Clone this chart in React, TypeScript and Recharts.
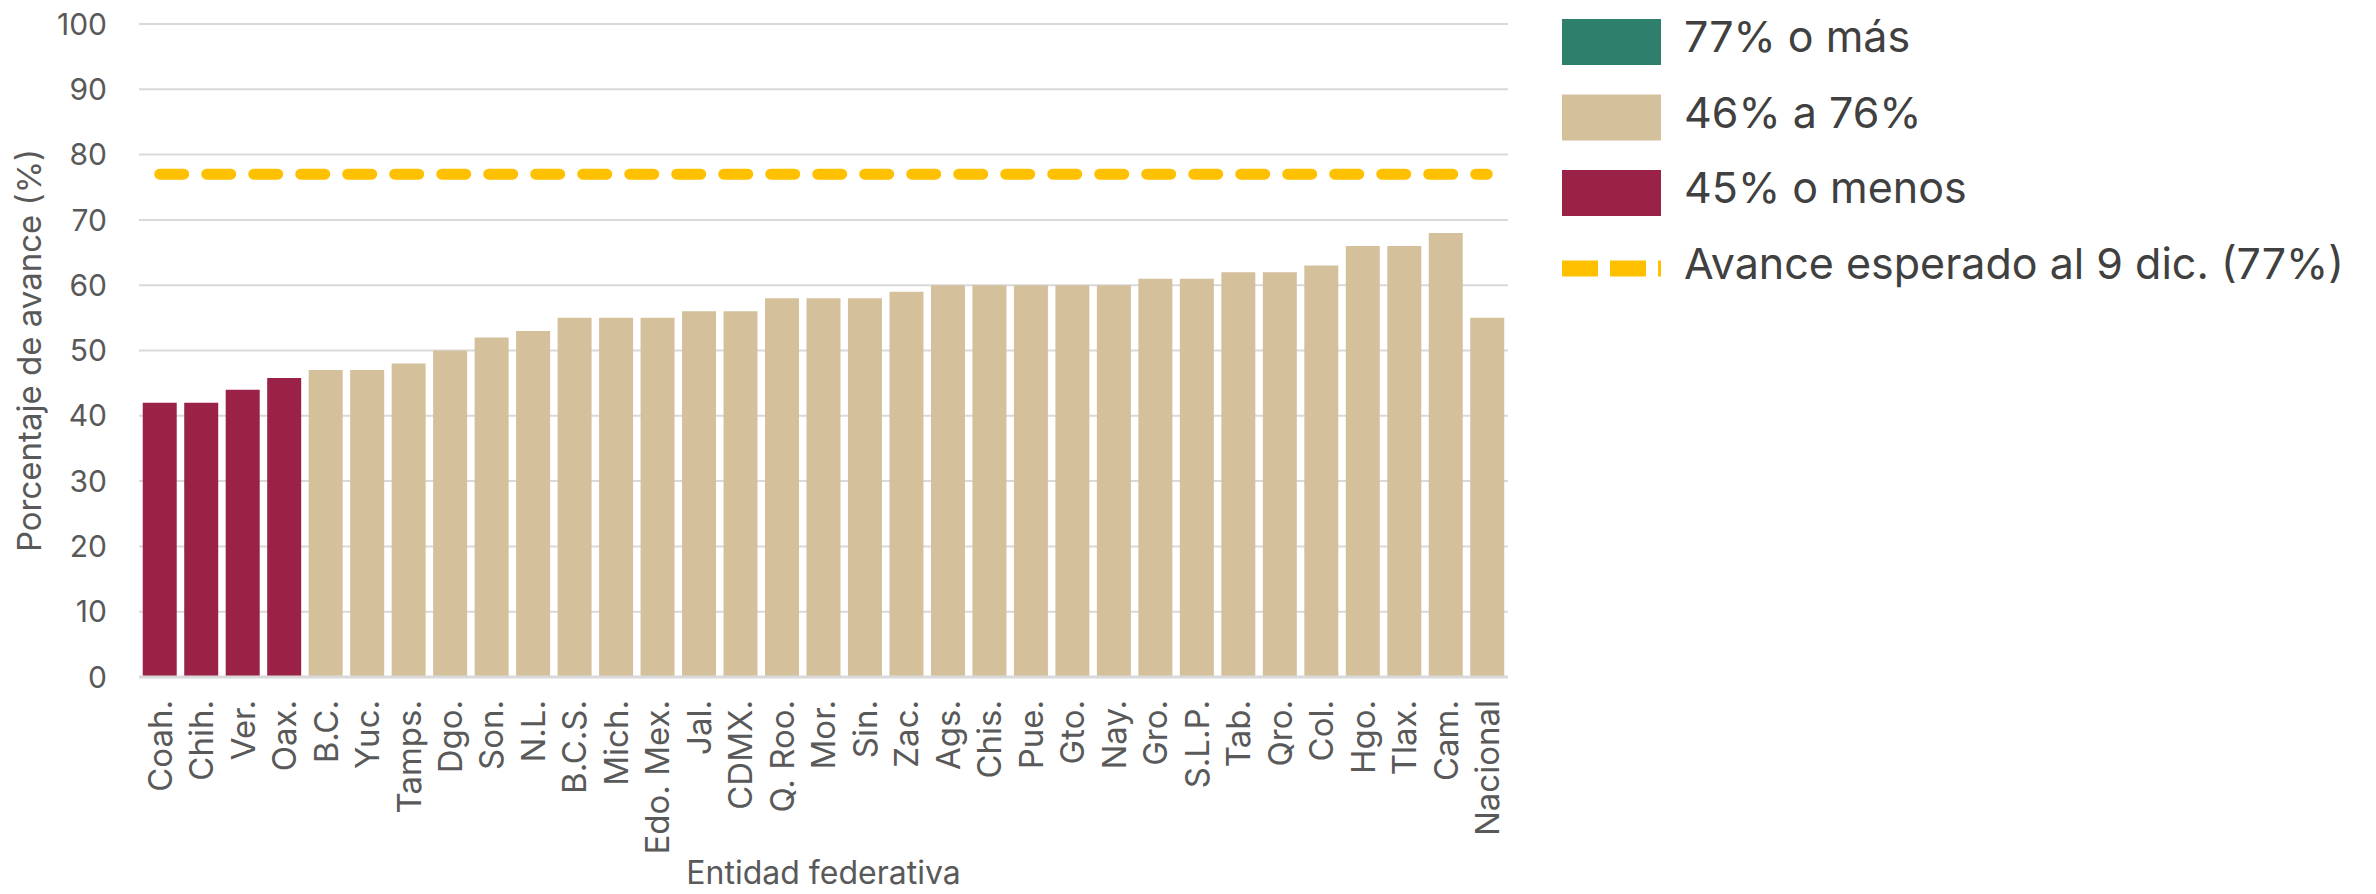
import React from 'react';
import {
  ComposedChart,
  Bar,
  Line,
  Cell,
  XAxis,
  YAxis,
  CartesianGrid,
  Label,
} from 'recharts';

// ---------- data ----------
const categories: string[] = [
  'Coah.', 'Chih.', 'Ver.', 'Oax.', 'B.C.', 'Yuc.', 'Tamps.', 'Dgo.', 'Son.', 'N.L.',
  'B.C.S.', 'Mich.', 'Edo. Mex.', 'Jal.', 'CDMX.', 'Q. Roo.', 'Mor.', 'Sin.', 'Zac.', 'Ags.',
  'Chis.', 'Pue.', 'Gto.', 'Nay.', 'Gro.', 'S.L.P.', 'Tab.', 'Qro.', 'Col.', 'Hgo.',
  'Tlax.', 'Cam.', 'Nacional',
];

const avance: number[] = [
  42, 42, 44, 45.8, 47, 47, 48, 50, 52, 53,
  55, 55, 55, 56, 56, 58, 58, 58, 59, 60,
  60, 60, 60, 60, 61, 61, 62, 62, 63, 66,
  66, 68, 55,
];

const avanceEsperado = 77;

const yTicks: number[] = [0, 10, 20, 30, 40, 50, 60, 70, 80, 90, 100];

const legendLabels: string[] = [
  '77% o más',
  '46% a 76%',
  '45% o menos',
  'Avance esperado al 9 dic. (77%)',
];

// ---------- styles ----------
const COLOR_HIGH = '#2F7F6D';
const COLOR_MID = '#D4C19C';
const COLOR_LOW = '#9B2247';
const COLOR_LINE = '#FFC000';
const FONT = 'Inter, "Open Sans", "DejaVu Sans", sans-serif';
const TICK_COLOR = '#595959';

const colorFor = (v: number) => (v >= 77 ? COLOR_HIGH : v >= 46 ? COLOR_MID : COLOR_LOW);

const data = categories.map((c, i) => ({
  entidad: c,
  valor: avance[i],
  esperado: avanceEsperado,
}));

const XTick = (props: any) => {
  const { x, y, payload } = props;
  return (
    <text
      x={x}
      y={y}
      transform={`rotate(-90, ${x}, ${y})`}
      textAnchor="end"
      dy="0.36em"
      fontSize={33}
      fontFamily={FONT}
      fill={TICK_COLOR}
    >
      {payload.value}
    </text>
  );
};

const YTitle = (props: any) => {
  const vb = props.viewBox || {};
  const cx = 29;
  const cy = vb.y + vb.height / 2;
  return (
    <text
      x={cx}
      y={cy}
      transform={`rotate(-90, ${cx}, ${cy})`}
      textAnchor="middle"
      dy="0.36em"
      fontSize={33}
      fontFamily={FONT}
      fill={TICK_COLOR}
    >
      Porcentaje de avance (%)
    </text>
  );
};

const Legend = () => {
  const swatchColors = [COLOR_HIGH, COLOR_MID, COLOR_LOW];
  const rowH = 75.5;
  return (
    <svg
      width={836}
      height={320}
      style={{ position: 'absolute', left: 1540, top: 0 }}
    >
      {swatchColors.map((c, i) => (
        <rect key={i} x={22} y={19 + rowH * i} width={99} height={46} fill={c} />
      ))}
      <line
        x1={22}
        x2={121}
        y1={19 + 23 + rowH * 3}
        y2={19 + 23 + rowH * 3}
        stroke={COLOR_LINE}
        strokeWidth={16}
        strokeDasharray="36 12"
      />
      {legendLabels.map((t, i) => (
        <text
          key={t}
          x={144}
          y={19 + 23 + rowH * i}
          dy={10}
          fontSize={43}
          fontFamily={FONT}
          fill="#404040"
        >
          {t}
        </text>
      ))}
    </svg>
  );
};

export default function App() {
  return (
    <div style={{ position: 'absolute', left: 0, top: 0, width: 2376, height: 894, background: '#ffffff' }}>
      <ComposedChart
        width={2376}
        height={894}
        data={data}
        margin={{ top: 24, right: 868, bottom: 0, left: 0 }}
        barCategoryGap="9%"
      >
        <CartesianGrid vertical={false} stroke="#D9D9D9" strokeWidth={2} />
        <XAxis
          dataKey="entidad"
          interval={0}
          height={217}
          tick={<XTick />}
          tickLine={false}
          tickSize={0}
          tickMargin={23}
          axisLine={{ stroke: '#D9D9D9', strokeWidth: 3 }}
        >
          <Label
            value="Entidad federativa"
            position="insideBottom"
            offset={10}
            fontSize={32}
            fontFamily={FONT}
            fill={TICK_COLOR}
          />
        </XAxis>
        <YAxis
          width={139}
          domain={[0, 100]}
          ticks={yTicks}
          interval={0}
          axisLine={false}
          tickLine={false}
          tickSize={0}
          tickMargin={32}
          tick={{ fontSize: 30, fontFamily: FONT, fill: TICK_COLOR }}
          label={<YTitle />}
        />
        <Bar dataKey="valor" isAnimationActive={false}>
          {data.map((d, i) => (
            <Cell key={i} fill={colorFor(d.valor)} />
          ))}
        </Bar>
        <Line
          type="linear"
          dataKey="esperado"
          stroke={COLOR_LINE}
          strokeWidth={11}
          strokeDasharray="24 23"
          strokeLinecap="round"
          dot={false}
          activeDot={false}
          isAnimationActive={false}
        />
      </ComposedChart>
      <Legend />
    </div>
  );
}
